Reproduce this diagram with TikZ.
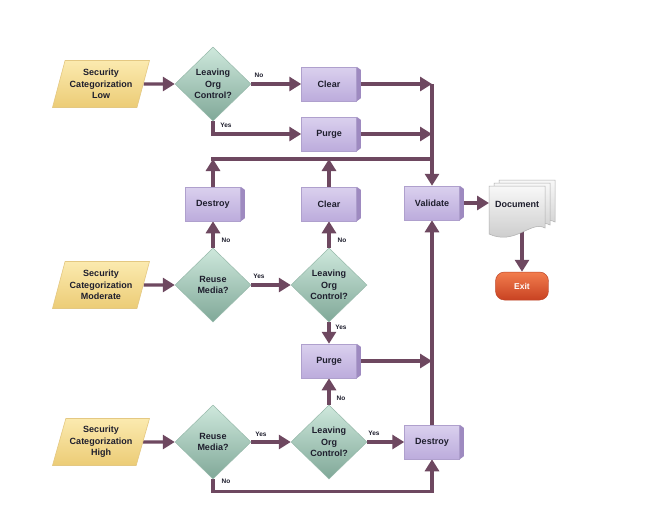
\documentclass[tikz,border=0pt]{standalone}
\usepackage{fontspec}
\setmainfont{Liberation Sans}
\usetikzlibrary{shapes.geometric,arrows.meta}
\definecolor{arr}{RGB}{110,72,96}
\definecolor{txt}{RGB}{30,30,45}
\pgfdeclarelayer{bg}
\pgfdeclarelayer{canvas}
\pgfsetlayers{canvas,bg,main}
\tikzset{
  base/.style={font=\fontsize{9}{11.5}\selectfont\bfseries, text=txt, align=center, inner sep=0pt},
  para/.style={base, trapezium, trapezium left angle=67, trapezium right angle=113,
    trapezium stretches body=true, minimum width=97pt, minimum height=47pt,
    top color={rgb,255:red,251;green,234;blue,175}, bottom color={rgb,255:red,236;green,204;blue,118},
    draw={rgb,255:red,228;green,200;blue,130}, line width=0.6pt},
  dia/.style={base, diamond, minimum width=76pt, minimum height=74pt,
    top color={rgb,255:red,206;green,232;blue,220}, bottom color={rgb,255:red,128;green,168;blue,152},
    draw={rgb,255:red,150;green,185;blue,170}, line width=0.5pt},
  pbox/.style={base, rectangle, minimum width=55pt, minimum height=34pt,
    top color={rgb,255:red,218;green,208;blue,238}, bottom color={rgb,255:red,188;green,172;blue,220},
    draw={rgb,255:red,175;green,160;blue,205}, line width=0.5pt},
  side/.style={fill={rgb,255:red,158;green,138;blue,192}},
  conn/.style={draw=arr, line width=3.2pt, -{Triangle[length=12pt,width=14pt]}},
  plain/.style={draw=arr, line width=3.2pt},
  lab/.style={font=\fontsize{6.5}{7}\selectfont\bfseries, text=txt, inner sep=0pt},
  docpg/.style={top color={rgb,255:red,248;green,248;blue,248}, bottom color={rgb,255:red,198;green,198;blue,198},
    draw={rgb,255:red,175;green,175;blue,175}, line width=0.5pt},
  exitn/.style={font=\fontsize{8.5}{10}\selectfont\bfseries, text=white, rectangle, rounded corners=9pt,
    minimum width=53pt, minimum height=28pt, inner sep=0pt,
    top color={rgb,255:red,242;green,125;blue,78}, bottom color={rgb,255:red,200;green,66;blue,34},
    draw={rgb,255:red,190;green,70;blue,40}, line width=0.5pt}
}
\newcommand\sideface[1]{%
  \fill[side] (#1.north east) -- ([shift={(4,3)}]#1.north east) -- ([shift={(4,-3)}]#1.south east) -- (#1.south east) -- cycle;}
\newcommand\docpage[2]{%
  \begin{scope}[shift={(#1,#2)}]
  \path[docpg] (0,0) -- (56,0) -- (56,42) .. controls (42,34) and (26,60) .. (0,48) -- cycle;
  \end{scope}}
\begin{document}
\begin{tikzpicture}[x=1pt,y=-1pt]
\useasboundingbox (0,0) rectangle (648,523);
\begin{pgfonlayer}{canvas}
\fill[white] (0,0) rectangle (648,523);
\end{pgfonlayer}

% inputs
\node[para] (low) at (101,84) {Security\\Categorization\\Low};
\node[para] (mod) at (101,285) {Security\\Categorization\\Moderate};
\node[para] (high) at (101,442) {Security\\Categorization\\High};

% decisions
\node[dia] (d1) at (213,84) {Leaving\\Org\\Control?};
\node[dia] (r2) at (213,285) {Reuse\\Media?};
\node[dia] (l2) at (329,285) {Leaving\\Org\\Control?};
\node[dia] (r3) at (213,442) {Reuse\\Media?};
\node[dia] (l3) at (329,442) {Leaving\\Org\\Control?};

% process boxes
\node[pbox] (clear1) at (329,84) {Clear};
\node[pbox] (purge1) at (329,134) {Purge};
\node[pbox] (destroy2) at (213,204) {Destroy};
\node[pbox] (clear2) at (329,204) {Clear};
\node[pbox] (validate) at (432,203) {Validate};
\node[pbox] (purge2) at (329,361) {Purge};
\node[pbox] (destroy3) at (432,442) {Destroy};
\sideface{clear1}\sideface{purge1}\sideface{destroy2}\sideface{clear2}
\sideface{validate}\sideface{purge2}\sideface{destroy3}

% document
\docpage{499}{180}
\docpage{494}{183}
\docpage{489}{186}
\node[base] (doc) at (517,204) {Document};
\coordinate (docb) at (522,225);

% exit
\node[exitn] (exit) at (522,286) {Exit};

% junctions
\coordinate (jA) at (validate.north |- clear1.east);
\coordinate (jB) at (validate.north |- purge1.east);
\coordinate (jH) at (432,159);
\coordinate (hL) at (211,159);
\coordinate (jC) at (validate.north |- purge2.east);

% labels
\node[lab] (t1) at (259,75) {No};
\node[lab] (t2) at (226,125) {Yes};
\node[lab] (t3) at (226,240) {No};
\node[lab] (t4) at (259,276) {Yes};
\node[lab] (t5) at (342,240) {No};
\node[lab] (t6) at (341,327) {Yes};
\node[lab] (t7) at (341,398) {No};
\node[lab] (t8) at (261,434) {Yes};
\node[lab] (t9) at (374,433) {Yes};
\node[lab] (t10) at (226,481) {No};

\begin{pgfonlayer}{bg}
\draw[conn] (low.east) -- (d1.west);
\draw[conn] (mod.east) -- (r2.west);
\draw[conn] (high.east) -- (r3.west);
\draw[conn] (d1.east) -- (clear1.west);
\draw[conn] (d1.south) |- (purge1.west);
\draw[conn] (clear1.east) -- (jA);
\draw[conn] (purge1.east) -- (jB);
\draw[plain] (hL) -- (jH);
\draw[conn] (jA) -- (validate.north);
\draw[conn] (destroy2.north) -- (destroy2.north |- hL);
\draw[conn] (clear2.north) -- (clear2.north |- hL);
\draw[conn] (r2.north) -- (destroy2.south);
\draw[conn] (r2.east) -- (l2.west);
\draw[conn] (l2.north) -- (clear2.south);
\draw[conn] (l2.south) -- (purge2.north);
\draw[conn] (purge2.east) -- (jC);
\draw[conn] (destroy3.north) -- (validate.south);
\draw[conn] (r3.east) -- (l3.west);
\draw[conn] (l3.east) -- (destroy3.west);
\draw[conn] (l3.north) -- (purge2.south);
\draw[conn] (r3.south) -- ++(0,12) -| (destroy3.south);
\draw[conn] (validate.east) -- (489,203);
\draw[conn] (docb) -- (exit.north);
\end{pgfonlayer}
\end{tikzpicture}
\end{document}
